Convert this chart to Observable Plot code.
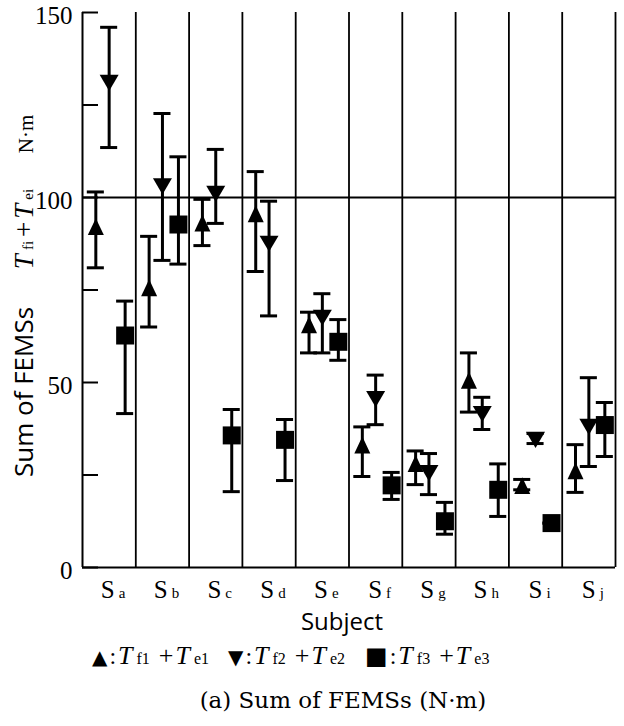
<!DOCTYPE html>
<html><head><meta charset="utf-8">
<script src="https://cdn.jsdelivr.net/npm/d3@7"></script>
<script src="https://cdn.jsdelivr.net/npm/@observablehq/plot@0.6"></script>
<style>body{margin:0;background:#fff}</style>
</head><body><div id="chart"></div>
<script>
// ---- data ----
const subjects = ["a","b","c","d","e","f","g","h","i","j"];
const yTickLabels = [0, 50, 100, 150];
const yTickMarks = [0, 25, 50, 75, 100, 125, 150];

// series 1: ▲ Tf1 + Te1
const t1   = [92, 75.5, 93, 95.5, 65.5, 33, 28, 50.5, 22, 26];
const t1Hi = [101.5, 89.5, 99.5, 107, 69, 38, 31.5, 58, 23.8, 33.2];
const t1Lo = [81, 65, 87, 80, 58, 24.6, 22.4, 42, 21, 20.3];
// series 2: ▼ Tf2 + Te2
const t2   = [131, 103, 101, 87.5, 67.5, 45.5, 25.5, 41.5, 34.5, 38];
const t2Hi = [146, 122.7, 113, 99, 74, 52, 30.8, 46, 36.2, 51.3];
const t2Lo = [113.5, 83, 93, 68, 58, 38.6, 19.7, 37.3, 33.5, 27.3];
// series 3: ■ Tf3 + Te3
const t3   = [62.7, 92.7, 35.7, 34.5, 61, 22.2, 12.5, 21, 12, 38.5];
const t3Hi = [72, 111, 42.7, 40, 67, 25.7, 17.6, 28, 12, 44.6];
const t3Lo = [41.6, 82, 20.5, 23.5, 56, 18.4, 9, 13.8, 12, 30];

// legend entries
const legendSymbols = ["▲", "▼", "■"];
const legendSubs = [["f1", "e1"], ["f2", "e2"], ["f3", "e3"]];

// ---- symbols ----
const upTri = {draw(ctx, size){ const r = Math.sqrt(size/Math.PI);
  ctx.moveTo(0,-1.12*r); ctx.lineTo(r,r); ctx.lineTo(-r,r); ctx.closePath(); }};
const downTri = {draw(ctx, size){ const r = Math.sqrt(size/Math.PI);
  ctx.moveTo(-r,-0.85*r); ctx.lineTo(r,-0.85*r); ctx.lineTo(0,0.85*r); ctx.closePath(); }};
const sq = {draw(ctx, size){ const r = Math.sqrt(size/Math.PI);
  ctx.rect(-r,-r,2*r,2*r); }};

const series = [
  {key:"t1", v:t1, hi:t1Hi, lo:t1Lo, symbol:upTri, off:-0.25, r:8},
  {key:"t2", v:t2, hi:t2Hi, lo:t2Lo, symbol:downTri, off:0.0, r:9.5},
  {key:"t3", v:t3, hi:t3Hi, lo:t3Lo, symbol:sq, off:0.3, r:9}
];
const rows = series.flatMap(s => subjects.map((subj, i) => ({
  series: s.key, subject: subj, pos: i + 0.5 + s.off, v: s.v[i], hi: s.hi[i], lo: s.lo[i]
})));
const capHalf = 0.16;

const W = 624, H = 726;
const plot = Plot.plot({
  width: W, height: H,
  marginTop: 12, marginBottom: 159, marginLeft: 82, marginRight: 9,
  style: "font-family: 'Liberation Serif', serif; font-size: 25px; color: #000; background: #fff;",
  x: {type: "linear", domain: [0, subjects.length]},
  y: {type: "linear", domain: [0, 150]},
  marks: [
    // band separators and frame
    Plot.ruleX(subjects.map((d, i) => i + 1), {y1: 0, y2: 150, stroke: "#000", strokeWidth: 1.8}),
    Plot.ruleX([0], {y1: 0, y2: 150, stroke: "#000", strokeWidth: 2}),
    Plot.ruleY([0], {stroke: "#000", strokeWidth: 2}),
    Plot.ruleY([100], {stroke: "#000", strokeWidth: 1.8}),
    // inward y ticks
    Plot.ruleY(yTickMarks, {x1: 0, x2: 0.3, stroke: "#000", strokeWidth: 2}),
    Plot.axisY(yTickLabels, {tickSize: 0, tickPadding: 10, label: null, dy: 3}),
    Plot.axisX(subjects.map((d, i) => i + 0.5), {tickSize: 0, tickPadding: 13, label: null, dx: 4,
      tickFormat: (d) => "S" + subjects[Math.round(d - 0.5)]}),
    // error bars
    Plot.ruleX(rows, {x: "pos", y1: "lo", y2: "hi", stroke: "#000", strokeWidth: 3}),
    Plot.ruleY(rows, {y: "hi", x1: d => d.pos - capHalf, x2: d => d.pos + capHalf, stroke: "#000", strokeWidth: 3}),
    Plot.ruleY(rows, {y: "lo", x1: d => d.pos - capHalf, x2: d => d.pos + capHalf, stroke: "#000", strokeWidth: 3}),
    // markers
    ...series.map(s => Plot.dot(rows.filter(d => d.series === s.key),
      {x: "pos", y: "v", symbol: s.symbol, r: s.r, fill: "#000", stroke: "none"}))
  ]
});
document.getElementById("chart").appendChild(plot);

const svg = d3.select(plot);

// subscripted x tick labels
svg.selectAll('g[aria-label="x-axis tick label"] text').each(function() {
  const t = d3.select(this);
  const s = t.text();
  t.text(null).attr("font-size", 25);
  t.append("tspan").text(s[0]);
  t.append("tspan").attr("font-size", 15).attr("dx", 4).text(s.slice(1));
});
svg.selectAll('g[aria-label="y-axis tick label"] text').attr("font-size", 25);

function rich(parent, parts, attrs) {
  const t = parent.append("text");
  for (const [k, v] of Object.entries(attrs)) t.attr(k, v);
  for (const p of parts) {
    const s = t.append("tspan").text(p.t);
    if (p.f) s.attr("font-family", p.f);
    if (p.s) s.attr("font-size", p.s);
    if (p.i) s.attr("font-style", "italic");
    if (p.dx) s.attr("dx", p.dx);
  }
  return t;
}
const serif = "'Liberation Serif', serif";
const sans = "'Open Sans', sans-serif";
const sym = "'DejaVu Sans', sans-serif";

// y-axis label (rotated, three pieces)
rich(svg, [{t: "Sum of FEMSs", f: sans, s: 26}],
  {transform: "translate(33,392) rotate(-90)", "text-anchor": "middle"});
rich(svg, [
  {t: "T", f: serif, s: 27, i: true}, {t: "fi", f: serif, s: 15, dx: 4},
  {t: "+", f: serif, s: 27, dx: 4}, {t: "T", f: serif, s: 27, i: true, dx: 3}, {t: "ei", f: serif, s: 15, dx: 4}
], {transform: "translate(33,229) rotate(-90)", "text-anchor": "middle"});
rich(svg, [{t: "N·m", f: serif, s: 21}],
  {transform: "translate(33,134) rotate(-90)", "text-anchor": "middle"});

// x-axis title
rich(svg, [{t: "Subject", f: sans, s: 24}], {x: 342, y: 630, "text-anchor": "middle"});

// legend: three groups
const legendX = [92, 228, 365];
legendSymbols.forEach((g, k) => {
  rich(svg, [
    {t: g, f: sym, s: g === "■" ? 24 : 20},
    {t: ":", f: serif, s: 24, dx: 2},
    {t: "T", f: serif, s: 26, i: true, dx: 2},
    {t: legendSubs[k][0], f: serif, s: 16, dx: 4},
    {t: "+", f: serif, s: 26, dx: 9},
    {t: "T", f: serif, s: 26, i: true, dx: 2},
    {t: legendSubs[k][1], f: serif, s: 16, dx: 4}
  ], {x: legendX[k], y: 664, "text-anchor": "start"});
});

// caption
rich(svg, [{t: "(a) Sum of FEMSs (N·m)", f: "'DejaVu Serif', serif", s: 23}],
  {x: 343, y: 708, "text-anchor": "middle"});
</script>
</body></html>
